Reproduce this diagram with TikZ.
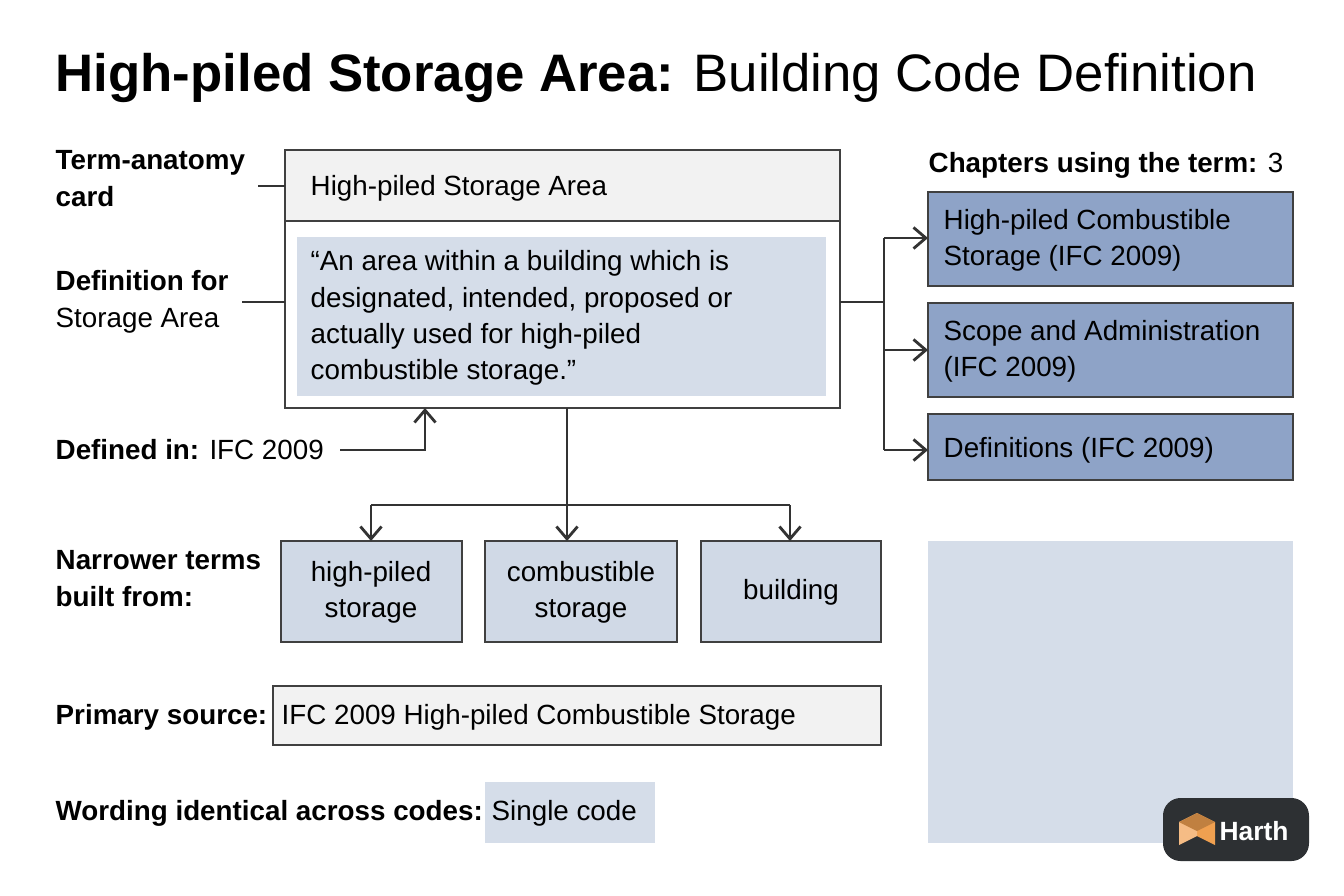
\documentclass[tikz,border=0pt]{standalone}
\usepackage{fontspec}
\setmainfont{Liberation Sans}
\usetikzlibrary{arrows.meta,positioning}
\definecolor{HLight}{HTML}{F2F2F2}
\definecolor{HPale}{HTML}{D5DDE9}
\definecolor{HMid}{HTML}{D0D9E6}
\definecolor{HBlue}{HTML}{8EA3C7}
\definecolor{HDark}{HTML}{2D3033}
\definecolor{HOrange}{HTML}{F0A050}
\tikzset{
    box/.style = {draw=black!75, line width=0.8pt, rectangle, inner sep=0pt},
    txt/.style = {anchor=west, inner sep=0pt, font=\fontsize{7.9}{10.3}\selectfont, align=left},
    ctxt/.style = {inner sep=0pt, font=\fontsize{7.9}{10.3}\selectfont, align=center},
    link/.style = {draw=black!80, line width=0.8pt},
    arrow/.style = {link, -{Straight Barb[length=3.5pt,width=6pt]}}
}
\begin{document}
\begin{tikzpicture}[x=0.01cm,y=-0.01cm]
    \useasboundingbox (0,0) rectangle (1344,896);
    \fill[white] (0,0) rectangle (1344,896);
    % title
    \node[txt, font=\fontsize{15}{18}\selectfont] (title) at (55,78) {\textbf{High-piled Storage Area:} Building Code Definition};
    % card
    \draw[box, fill=white] (285,150) rectangle (840,408);
    \draw[box, fill=HLight] (285,150) rectangle (840,221);
    \fill[HPale] (297,237) rectangle (826,396);
    \node[txt] (head) at (310,188) {High-piled Storage Area};
    \node[txt, anchor=north west] (quote) at (310,250) {“An area within a building which is\\designated, intended, proposed or\\actually used for high-piled\\combustible storage.”};
    \coordinate (cardN) at (285,186);
    \coordinate (cardW) at (285,302);
    \coordinate (cardE) at (840,302);
    \coordinate (cardS) at (567,408);
    \coordinate (cardB) at (425,408);
    % left labels
    \node[txt, anchor=north west] (anat) at (55,150) {\textbf{Term-anatomy}\\\textbf{card}};
    \node[txt, anchor=north west] (defn) at (55,270) {\textbf{Definition for}\\Storage Area};
    \node[txt] (defin) at (55,450) {\textbf{Defined in:} IFC 2009};
    \draw[link] (258,186) -- (cardN);
    \draw[link] (242,302) -- (cardW);
    \draw[arrow] (340,450) -| (cardB);
    % chapters
    \node[txt] (chap) at (928,165) {\textbf{Chapters using the term:} 3};
    \draw[box, fill=HBlue] (928,192) rectangle (1293,286);
    \draw[box, fill=HBlue] (928,303) rectangle (1293,397);
    \draw[box, fill=HBlue] (928,414) rectangle (1293,480);
    \node[txt] (c1) at (943,240) {High-piled Combustible\\Storage (IFC 2009)};
    \node[txt] (c2) at (943,351) {Scope and Administration\\(IFC 2009)};
    \node[txt] (c3) at (943,450) {Definitions (IFC 2009)};
    \coordinate (split) at (884,302);
    \draw[link] (cardE) -- (split);
    \draw[link] (884,238) -- (884,450);
    \foreach \y in {238,350,450}
        \draw[arrow] (884,\y) -- (928,\y);
    % narrower terms
    \node[txt, anchor=north west] (narrow) at (55,550) {\textbf{Narrower terms}\\\textbf{built from:}};
    \draw[box, fill=HMid] (281,541) rectangle (462,642);
    \draw[box, fill=HMid] (485,541) rectangle (677,642);
    \draw[box, fill=HMid] (701,541) rectangle (881,642);
    \node[ctxt] (n1) at (371,592) {high-piled\\storage};
    \node[ctxt] (n2) at (581,592) {combustible\\storage};
    \node[ctxt] (n3) at (791,592) {building};
    \draw[arrow] (cardS) -- (567,541);
    \draw[link] (371,505) -- (790,505);
    \draw[arrow] (371,505) -- (371,541);
    \draw[arrow] (790,505) -- (790,541);
    % primary source
    \node[txt] (prim) at (55,717) {\textbf{Primary source:}};
    \draw[box, fill=HLight] (273,686) rectangle (881,745);
    \node[txt] (src) at (281,717) {IFC 2009 High-piled Combustible Storage};
    % wording
    \node[txt] (word) at (55,813) {\textbf{Wording identical across codes:}};
    \fill[HPale] (485,782) rectangle (655,843);
    \node[txt] (single) at (491,813) {Single code};
    % right panel
    \fill[HPale] (928,541) rectangle (1293,843);
    % logo
    \fill[HDark, rounded corners=5pt] (1163,798) rectangle (1309,861);
    \fill[HOrange] (1197,813) -- (1215,822) -- (1215,845) -- (1197,836) -- cycle;
    \fill[HOrange!70!white] (1179,822) -- (1197,813) -- (1197,836) -- (1179,845) -- cycle;
    \fill[HOrange!80!black] (1179,822) -- (1197,813) -- (1215,822) -- (1197,831) -- cycle;
    \node[txt, text=white, font=\fontsize{7.5}{9}\selectfont\bfseries] (logo) at (1219,831) {Harth};
\end{tikzpicture}
\end{document}
